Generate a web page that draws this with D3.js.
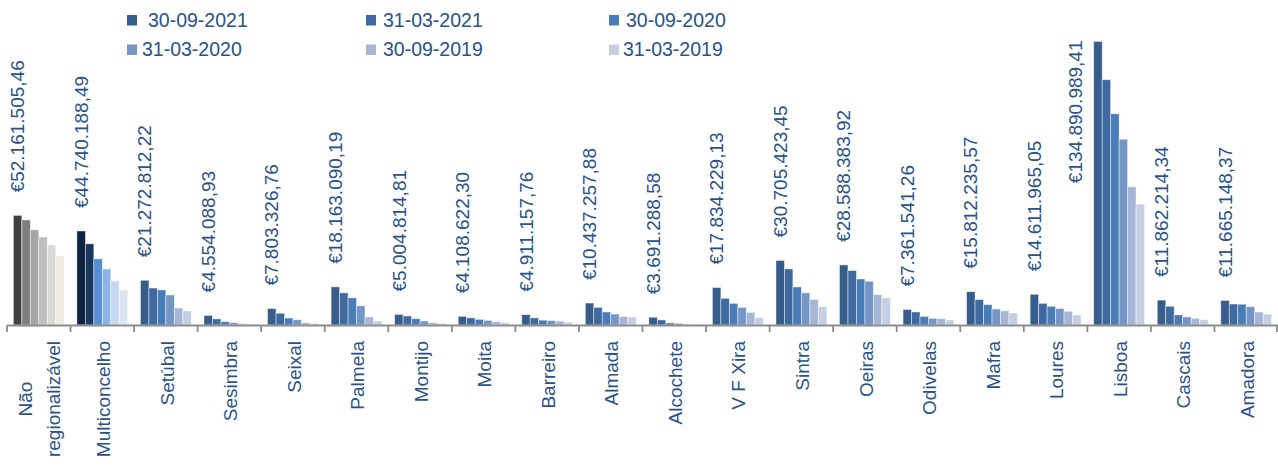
<!DOCTYPE html>
<html>
<head>
<meta charset="utf-8">
<script src="https://cdn.jsdelivr.net/npm/d3@7"></script>
<style>
  html, body { margin: 0; padding: 0; background: #ffffff; }
  svg { display: block; }
  text { font-family: "Liberation Sans", Arial, sans-serif; }
</style>
</head>
<body>
<svg id="chart" width="1278" height="466"></svg>
<script>
// ---------- data ----------
const categories = ["Não regionalizável", "Multiconcelho", "Setúbal", "Sesimbra", "Seixal", "Palmela",
  "Montijo", "Moita", "Barreiro", "Almada", "Alcochete", "V F Xira", "Sintra", "Oeiras", "Odivelas",
  "Mafra", "Loures", "Lisboa", "Cascais", "Amadora"];

const seriesNames = ["30-09-2021", "31-03-2021", "30-09-2020", "31-03-2020", "30-09-2019", "31-03-2019"];

const s_30_09_2021 = [52161505.46, 44740188.49, 21272812.22, 4554088.93, 7803326.76, 18163090.19,
  5004814.81, 4108622.30, 4911157.76, 10437257.88, 3691288.58, 17834229.13, 30705423.45, 28588383.92,
  7361541.26, 15812235.57, 14611965.05, 134890989.41, 11862214.34, 11665148.37];
const s_31_03_2021 = [50000000, 38600000, 17600000, 2900000, 5600000, 15300000,
  4300000, 3400000, 3400000, 8400000, 2400000, 12700000, 26700000, 25900000,
  6200000, 12100000, 10300000, 116700000, 8900000, 10000000];
const s_30_09_2020 = [45300000, 31500000, 16700000, 1600000, 3300000, 12900000,
  3000000, 2700000, 2300000, 6200000, 1000000, 10300000, 18100000, 21900000,
  4100000, 9700000, 8900000, 100500000, 4800000, 9900000];
const s_31_03_2020 = [41900000, 26700000, 14300000, 1100000, 2500000, 9100000,
  1900000, 2200000, 2100000, 5200000, 800000, 8400000, 15300000, 20800000,
  3200000, 7600000, 7800000, 88400000, 3800000, 8700000];
const s_30_09_2019 = [38100000, 21000000, 8100000, 600000, 1100000, 3800000,
  1100000, 1600000, 1800000, 4100000, 350000, 6000000, 12200000, 14400000,
  3000000, 6700000, 6500000, 65700000, 3200000, 6200000];
const s_31_03_2019 = [32900000, 16700000, 6700000, 500000, 800000, 1900000,
  800000, 1100000, 1300000, 3800000, 300000, 3500000, 8700000, 12900000,
  2400000, 5700000, 4800000, 57500000, 2500000, 5200000];

const seriesValues = [s_30_09_2021, s_31_03_2021, s_30_09_2020, s_31_03_2020, s_30_09_2019, s_31_03_2019];

// ---------- styles ----------
const bluePalette = ["#385d8a", "#4069a0", "#4a7cb8", "#7496c6", "#a5b6d6", "#c5cfe4"];
const greyPalette = ["#404040", "#7f7f7f", "#a6a6a6", "#bfbfbf", "#d9d9d9", "#eeece1"];
const navyPalette = ["#10243f", "#17375e", "#558ed5", "#8eb4e3", "#c6d9f1", "#dce6f2"];
const textColor = "#2a5289";
const axisColor = "#8c8c8c";
const fontSize = 19;
const wrapLineLength = 116;   // fixed rendered length of the longest wrapped label line

function paletteFor(i) {
  if (i === 0) return greyPalette;
  if (i === 1) return navyPalette;
  return bluePalette;
}

const svg = d3.select("#chart");
const baseY = 325, topY = 41.5, left = 7, right = 1278;

const x0 = d3.scaleBand().domain(categories).range([left, right]).paddingInner(0.2).paddingOuter(0.1);
const x1 = d3.scaleBand().domain(d3.range(seriesNames.length)).range([0, x0.bandwidth()]);
const y = d3.scaleLinear().domain([0, d3.max(s_30_09_2021)]).range([baseY, topY]);

const loc = d3.formatLocale({ decimal: ",", thousands: ".", grouping: [3], currency: ["€", ""] });
const fmt = loc.format("$,.2f");

// ---------- bars ----------
const groups = svg.append("g").selectAll("g")
  .data(categories)
  .join("g")
  .attr("transform", d => `translate(${x0(d)},0)`);

groups.each(function (cat, ci) {
  const pal = paletteFor(ci);
  d3.select(this).selectAll("rect")
    .data(seriesValues.map((arr, si) => ({ si, v: arr[ci] })))
    .join("rect")
    .attr("x", d => x1(d.si))
    .attr("y", d => y(d.v))
    .attr("width", x1.bandwidth())
    .attr("height", d => baseY - y(d.v))
    .attr("fill", d => pal[d.si])
    .attr("stroke", "rgba(255,255,255,0.55)")
    .attr("stroke-width", 0.8);
});

// ---------- axis ----------
const step = x0.step();
const tickXs = categories.map(c => x0(c) - step * x0.paddingOuter()).concat([right - 1]);
svg.append("line")
  .attr("x1", left).attr("x2", right)
  .attr("y1", baseY + 0.5).attr("y2", baseY + 0.5)
  .attr("stroke", axisColor).attr("stroke-width", 1.8);
svg.append("g").selectAll("line")
  .data(tickXs)
  .join("line")
  .attr("x1", d => d).attr("x2", d => d)
  .attr("y1", baseY).attr("y2", baseY + 7)
  .attr("stroke", axisColor).attr("stroke-width", 1.8);

// ---------- category labels ----------
const catLines = { "Não regionalizável": ["Não", "regionalizável"] };
const labelTop = 341;
categories.forEach(c => {
  const cx = x0(c) + x0.bandwidth() / 2 + 1;
  const lines = catLines[c];
  if (!lines) {
    svg.append("text")
      .attr("transform", `translate(${cx},${labelTop}) rotate(-90)`)
      .attr("text-anchor", "end")
      .attr("dy", "0.35em")
      .attr("font-size", fontSize)
      .attr("fill", textColor)
      .text(c);
    return;
  }
  const longest = lines.reduce((a, b) => (b.length > a.length ? b : a));
  const centerY = labelTop + wrapLineLength / 2;
  const gapL = 28;
  lines.forEach((l, li) => {
    const off = (li - (lines.length - 1) / 2) * gapL;
    const t = svg.append("text")
      .attr("transform", `translate(${cx + off},${centerY}) rotate(-90)`)
      .attr("text-anchor", "middle")
      .attr("dy", "0.35em")
      .attr("font-size", fontSize)
      .attr("fill", textColor)
      .text(l);
    if (l === longest) t.attr("textLength", wrapLineLength).attr("lengthAdjust", "spacingAndGlyphs");
  });
});

// ---------- data labels (first series) ----------
const gap = 23;
categories.forEach((c, ci) => {
  const v = s_30_09_2021[ci];
  const label = fmt(v);
  const estLen = label.length * 0.5 * fontSize;
  const bx = x0(c) + x1(0) + x1.bandwidth() / 2;
  const t = svg.append("text")
    .attr("dy", "0.35em")
    .attr("font-size", fontSize)
    .attr("fill", textColor)
    .text(label);
  if (y(v) - gap - estLen < topY - 2) {
    // not enough room above the bar: put it beside the bar, its end at the top of the plot
    t.attr("transform", `translate(${x0(c) - 18},${topY - 1}) rotate(-90)`)
      .attr("text-anchor", "end");
  } else {
    t.attr("transform", `translate(${bx},${y(v) - gap}) rotate(-90)`)
      .attr("text-anchor", "start");
  }
});

// ---------- legend ----------
const legSquareX = [[127, 366, 609], [127, 366, 609]];
const legTextX = [[148, 383, 626], [142, 383, 623]];
const legRows = [20, 49.5];
seriesNames.forEach((s, i) => {
  const r = Math.floor(i / 3), col = i % 3;
  const g = svg.append("g");
  g.append("rect")
    .attr("x", legSquareX[r][col]).attr("y", legRows[r] - 5)
    .attr("width", 10).attr("height", 10.5)
    .attr("fill", bluePalette[i]);
  g.append("text")
    .attr("x", legTextX[r][col]).attr("y", legRows[r] + 6.5)
    .attr("font-size", 19.5)
    .attr("fill", textColor)
    .text(s);
});
</script>
</body>
</html>
